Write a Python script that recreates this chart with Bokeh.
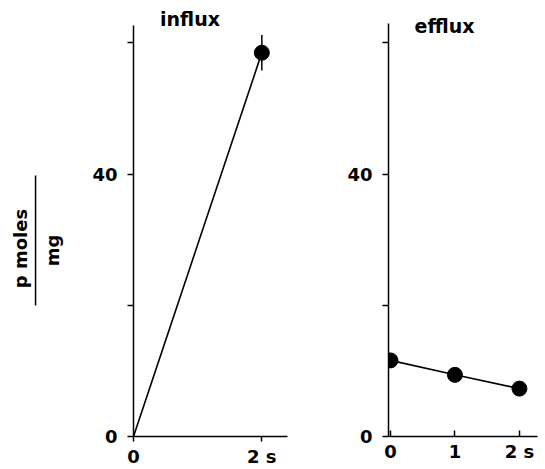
from bokeh.plotting import figure
from bokeh.layouts import row
from bokeh.models import FixedTicker, Range1d, Label, BoxAnnotation
from bokeh.embed import file_html
from bokeh.resources import INLINE

# ---- data ----
influx_t = [0, 2]
influx_v = [0, 58.5]
influx_err = [0, 2.7]
efflux_t = [0, 1, 2]
efflux_v = [11.6, 9.4, 7.3]

y_ticks = [0, 20, 40, 60]
y_labels = {0: "0", 20: "", 40: "40", 60: ""}
influx_xticks = [0, 2]
efflux_xticks = [0, 1, 2]
x_labels = {0: "0", 1: "1", 2: "2 s"}

FONT = "DejaVu Sans"
H = 469
Y_TOP = 66.46


def style(p, xticks, x_in, ytop):
    p.grid.visible = False
    p.outline_line_color = None
    for ax in (p.xaxis[0], p.yaxis[0]):
        ax.axis_line_width = 1.5
        ax.axis_line_color = "black"
        ax.major_tick_line_width = 1.5
        ax.major_tick_line_color = "black"
        ax.minor_tick_line_color = None
        ax.major_label_text_font = FONT
        ax.major_label_text_font_size = "18px"
        ax.major_label_text_font_style = "bold"
        ax.major_label_text_color = "black"
    p.yaxis.bounds = (0, ytop)
    p.yaxis.ticker = FixedTicker(ticks=y_ticks)
    p.yaxis.major_label_overrides = y_labels
    p.yaxis.major_tick_out = 6
    p.yaxis.major_tick_in = 0
    p.yaxis.major_label_standoff = 10
    p.xaxis.ticker = FixedTicker(ticks=xticks)
    p.xaxis.major_label_overrides = {k: x_labels[k] for k in xticks}
    if x_in:
        p.xaxis.major_tick_in = 6
        p.xaxis.major_tick_out = 0
    else:
        p.xaxis.major_tick_in = 0
        p.xaxis.major_tick_out = 5
    p.xaxis.major_label_standoff = 4


def caption(p, x, y, text, size, angle=0.0, baseline="middle"):
    p.add_layout(Label(x=x, y=y, text=text, angle=angle, text_font=FONT,
                       text_font_size=size, text_font_style="bold",
                       text_align="center", text_baseline=baseline,
                       text_color="black"))


# ---- y-axis caption panel (frame is aligned with the plots: 436 px tall) ----
p0 = figure(width=75, height=H, output_backend="svg", toolbar_location=None,
            x_range=Range1d(0, 75), y_range=Range1d(33, H),
            x_axis_type=None, y_axis_type=None, min_border=0)
p0.outline_line_color = None
caption(p0, 20, 221, "p moles", "18px", angle=1.5708)
caption(p0, 52, 219, "mg", "18px", angle=1.5708)
p0.add_layout(BoxAnnotation(left=34.3, right=35.8, bottom=164, top=294,
                            fill_color="black", fill_alpha=1, line_color=None))

# ---- left panel: influx ----
p1 = figure(width=215, height=H, output_backend="svg", toolbar_location=None,
            x_range=Range1d(0, 2.4), y_range=Range1d(0, Y_TOP),
            min_border_left=58, min_border_right=3,
            min_border_top=0, min_border_bottom=33)
style(p1, influx_xticks, False, 62.65)
p1.line(influx_t, influx_v, line_color="black", line_width=1.6)
p1.segment(x0=influx_t[1:], y0=[v - e for v, e in zip(influx_v[1:], influx_err[1:])],
           x1=influx_t[1:], y1=[v + e for v, e in zip(influx_v[1:], influx_err[1:])],
           line_color="black", line_width=1.5)
p1.scatter(influx_t[1:], influx_v[1:], size=15, fill_color="black", line_color="black")
caption(p1, 0.88, 63.6, "influx", "19px", baseline="alphabetic")

# ---- right panel: efflux ----
p2 = figure(width=255, height=H, output_backend="svg", toolbar_location=None,
            x_range=Range1d(-0.03, 2.28), y_range=Range1d(0, Y_TOP),
            min_border_left=98, min_border_right=8,
            min_border_top=0, min_border_bottom=33)
style(p2, efflux_xticks, True, 62.95)
p2.line(efflux_t, efflux_v, line_color="black", line_width=1.6)
p2.scatter(efflux_t, efflux_v, size=15, fill_color="black", line_color="black")
caption(p2, 0.838, 62.5, "efflux", "19px", baseline="alphabetic")

layout = row(p0, p1, p2)
open("out.html", "w").write(file_html(layout, INLINE))
